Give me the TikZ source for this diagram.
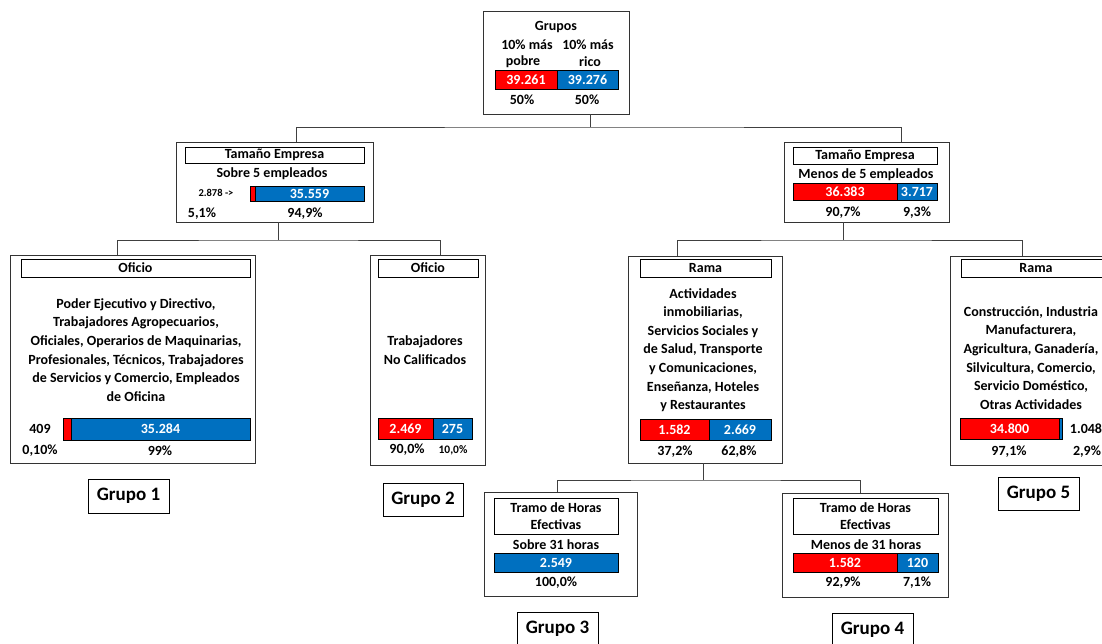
\documentclass[tikz,border=0pt]{standalone}
\usepackage{fontspec}
\setmainfont{Carlito}
\usetikzlibrary{calc}

\definecolor{barred}{RGB}{255,0,0}
\definecolor{barblue}{RGB}{0,112,192}

\begin{document}
\begin{tikzpicture}[x=1pt,y=-1pt,
	every node/.style={font=\bfseries\fontsize{14}{17}\selectfont, inner sep=0, outer sep=0},
	panel/.style={draw=black!80, line width=0.9pt, anchor=north west},
	head/.style={draw, line width=0.7pt, anchor=north west, align=center},
	redcell/.style={draw, line width=0.6pt, fill=barred, text=white, anchor=north west},
	bluecell/.style={draw, line width=0.6pt, fill=barblue, text=white, anchor=north west},
	lines/.style={align=center, font=\bfseries\fontsize{14}{18.6}\selectfont},
	grupo/.style={draw, line width=0.8pt, anchor=north west, font=\bfseries\fontsize{19}{21}\selectfont},
	link/.style={draw=black!75, line width=0.8pt}]

	\useasboundingbox[fill=white] (0,0) rectangle (1102,643);

	% raiz
	\node[panel, minimum width=146pt, minimum height=103pt] (root) at (483,11) {};
	\node (root-t) at (556,27) {Grupos};
	\node (root-h1) at (527,45) {10\% más};
	\node (root-h2) at (588,45) {10\% más};
	\node (root-s1) at (523,62) {pobre};
	\node (root-s2) at (590,62) {rico};
	\node[redcell, minimum width=62pt, minimum height=19pt] (root-r) at (495,70) {39.261};
	\node[bluecell, minimum width=61pt, minimum height=19pt] (root-b) at (557,70) {39.276};
	\node (root-p1) at (522,100) {50\%};
	\node (root-p2) at (587,100) {50\%};

	% tamano empresa
	\node[panel, minimum width=197pt, minimum height=80pt] (tl) at (176,142) {};
	\node[head, minimum width=179pt, minimum height=16pt] (tl-t) at (185,147) {Tamaño Empresa};
	\node (tl-s) at (272,174) {Sobre 5 empleados};
	\node[font=\bfseries\fontsize{10.5}{12}\selectfont] (tl-n) at (216,193) {2.878 ->};
	\node[redcell, minimum width=5pt, minimum height=15pt] (tl-r) at (250,186) {};
	\node[bluecell, minimum width=109pt, minimum height=15pt] (tl-b) at (255,186) {35.559};
	\node (tl-p1) at (202,214) {5,1\%};
	\node (tl-p2) at (305,214) {94,9\%};

	\node[panel, minimum width=165pt, minimum height=80pt] (tr) at (784,142) {};
	\node[head, minimum width=144pt, minimum height=17pt] (tr-t) at (793,147) {Tamaño Empresa};
	\node (tr-s) at (866,175) {Menos de 5 empleados};
	\node[redcell, minimum width=104pt, minimum height=17pt] (tr-r) at (793,183) {36.383};
	\node[bluecell, minimum width=40pt, minimum height=17pt] (tr-b) at (897,183) {3.717};
	\node (tr-p1) at (843,213) {90,7\%};
	\node (tr-p2) at (917,213) {9,3\%};

	% oficio
	\node[panel, minimum width=245pt, minimum height=208pt] (of1) at (10,255) {};
	\node[head, minimum width=229pt, minimum height=18pt] (of1-t) at (21,259) {Oficio};
	\node[lines] (of1-x) at (136,350) {Poder Ejecutivo y Directivo,\\Trabajadores Agropecuarios,\\Oficiales, Operarios de Maquinarias,\\Profesionales, Técnicos, Trabajadores\\de Servicios y Comercio, Empleados\\de Oficina};
	\node[redcell, minimum width=8pt, minimum height=22pt] (of1-r) at (63,418) {};
	\node[bluecell, minimum width=179pt, minimum height=22pt] (of1-b) at (71,418) {35.284};
	\node (of1-n) at (40,429) {409};
	\node (of1-p1) at (40,451) {0,10\%};
	\node (of1-p2) at (160,451) {99\%};

	\node[panel, minimum width=115pt, minimum height=210pt] (of2) at (370,255) {};
	\node[head, minimum width=100pt, minimum height=18pt] (of2-t) at (378,259) {Oficio};
	\node[lines] (of2-x) at (425,350) {Trabajadores\\No Calificados};
	\node[redcell, minimum width=55pt, minimum height=21pt] (of2-r) at (378,418) {2.469};
	\node[bluecell, minimum width=39pt, minimum height=21pt] (of2-b) at (433,418) {275};
	\node (of2-p1) at (407,450) {90,0\%};
	\node[font=\bfseries\fontsize{11.5}{13}\selectfont] (of2-p2) at (453,450) {10,0\%};

	% rama
	\node[panel, minimum width=154pt, minimum height=207pt] (ra1) at (628,256) {};
	\node[head, minimum width=131pt, minimum height=18pt] (ra1-t) at (640,259) {Rama};
	\node[lines] (ra1-x) at (703,350) {Actividades\\inmobiliarias,\\Servicios Sociales y\\de Salud, Transporte\\y Comunicaciones,\\Enseñanza, Hoteles\\y Restaurantes};
	\node[redcell, minimum width=69pt, minimum height=21pt] (ra1-r) at (640,419) {1.582};
	\node[bluecell, minimum width=62pt, minimum height=21pt] (ra1-b) at (709,419) {2.669};
	\node (ra1-p1) at (675,452) {37,2\%};
	\node (ra1-p2) at (739,452) {62,8\%};

	\node[panel, minimum width=170pt, minimum height=209pt] (ra2) at (950,256) {};
	\node[head, minimum width=150pt, minimum height=18pt] (ra2-t) at (961,259) {Rama};
	\node[lines] (ra2-x) at (1031,358) {Construcción, Industria\\Manufacturera,\\Agricultura, Ganadería,\\Silvicultura, Comercio,\\Servicio Doméstico,\\Otras Actividades};
	\node[redcell, minimum width=99pt, minimum height=21pt] (ra2-r) at (960,418) {34.800};
	\node[bluecell, minimum width=3pt, minimum height=21pt] (ra2-b) at (1059,418) {};
	\node (ra2-n) at (1086,429) {1.048};
	\node (ra2-p1) at (1009,452) {97,1\%};
	\node (ra2-p2) at (1087,452) {2,9\%};

	% tramo de horas
	\node[panel, minimum width=153pt, minimum height=104pt] (th1) at (484,492) {};
	\node[head, minimum width=124pt, minimum height=36pt] (th1-t) at (494,498) {Tramo de Horas\\Efectivas};
	\node (th1-s) at (556,545) {Sobre 31 horas};
	\node[bluecell, minimum width=124pt, minimum height=19pt] (th1-b) at (494,553) {2.549};
	\node (th1-p) at (556,583) {100,0\%};

	\node[panel, minimum width=166pt, minimum height=104pt] (th2) at (782,493) {};
	\node[head, minimum width=145pt, minimum height=36pt] (th2-t) at (793,498) {Tramo de Horas\\Efectivas};
	\node (th2-s) at (866,545) {Menos de 31 horas};
	\node[redcell, minimum width=104pt, minimum height=19pt] (th2-r) at (793,553) {1.582};
	\node[bluecell, minimum width=41pt, minimum height=19pt] (th2-b) at (897,553) {120};
	\node (th2-p1) at (843,583) {92,9\%};
	\node (th2-p2) at (917,583) {7,1\%};

	% grupos
	\node[grupo, minimum width=81pt, minimum height=34pt] (g1) at (88,479) {Grupo 1};
	\node[grupo, minimum width=80pt, minimum height=33pt] (g2) at (383,483) {Grupo 2};
	\node[grupo, minimum width=81pt, minimum height=33pt] (g3) at (517,612) {Grupo 3};
	\node[grupo, minimum width=81pt, minimum height=33pt] (g4) at (832,613) {Grupo 4};
	\node[grupo, minimum width=81pt, minimum height=33pt] (g5) at (998,477) {Grupo 5};

	% conectores
	\coordinate (bus0) at (590,127);
	\coordinate (xtl) at (296,0);
	\coordinate (xtr) at (901,0);
	\draw[link] (root.south -| bus0) -- (bus0);
	\draw[link] (tl.north -| xtl) |- (bus0) -| (tr.north -| xtr);

	\coordinate (bus1) at (278,240);
	\coordinate (xo1) at (117,0);
	\coordinate (xo2) at (440,0);
	\draw[link] (tl.south -| bus1) -- (bus1);
	\draw[link] (of1.north -| xo1) |- (bus1) -| (of2.north -| xo2);

	\coordinate (bus2) at (843,240);
	\coordinate (xr1) at (677,0);
	\coordinate (xr2) at (1022,0);
	\draw[link] (tr.south -| bus2) -- (bus2);
	\draw[link] (ra1.north -| xr1) |- (bus2) -| (ra2.north -| xr2);

	\coordinate (bus3) at (703,480);
	\coordinate (xh1) at (557,0);
	\coordinate (xh2) at (860,0);
	\draw[link] (ra1.south -| bus3) -- (bus3);
	\draw[link] (th1.north -| xh1) |- (bus3) -| (th2.north -| xh2);

\end{tikzpicture}
\end{document}
